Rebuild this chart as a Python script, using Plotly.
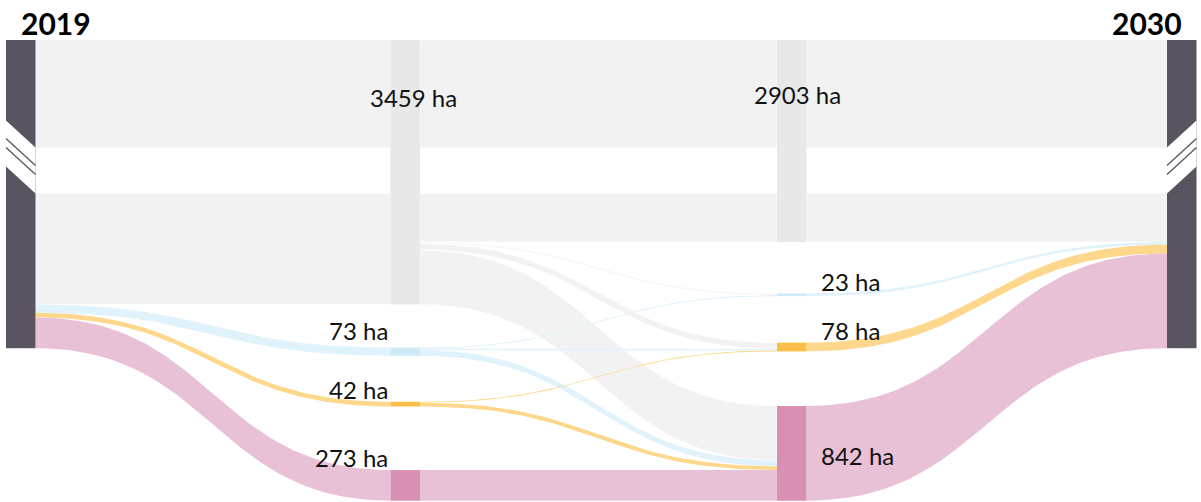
import numpy as np
import plotly.graph_objects as go

# ---------------- data ----------------
year_labels = ["2019", "2030"]
class_names = ["grey", "blue", "orange", "pink"]
stage1_values = [3459, 73, 42, 273]      # ha, first intermediate column
stage2_values = [2903, 23, 78, 842]      # ha, second intermediate column
# transitions between the two intermediate columns
trans_source = [0, 0, 0, 0, 1, 1, 1, 2, 2, 3]
trans_target = [0, 1, 2, 3, 1, 2, 3, 2, 3, 3]
trans_values = [2903, 14, 57, 485, 9, 13, 51, 8, 34, 273]
unit = "ha"

# ---------------- style / layout ----------------
flow_colors = ["#f2f2f2", "#e0f2fc", "#fdd88c", "#e9c1d7"]
node_colors = ["#e8e8e8", "#cee9f8", "#fbbf47", "#d990b5"]
year_color = "#5a5360"
W, H = 1201, 502
col_x = [6, 390.5, 777, 1167]
node_w = 29.5
top_px = 40
k = 0.1125                 # px per ha
brk_u = (147.5 - top_px) / k   # ha from top where the axis break starts
brk_hidden = 1516          # ha hidden by the break
brk_px = 46                # visual height of the break
col_gaps = {1: [43, 46, 63.5], 2: [51.5, 46.5, 54.5]}
label_dy = {1: [57, -17.5, -12.7, -13], 2: [54, -12.5, -11.7, 49.7]}
font_family = "Lato"


def Y(u):
    if u <= brk_u:
        return top_px + k * u
    if u <= brk_u + brk_hidden:
        return top_px + k * brk_u + brk_px * (u - brk_u) / brk_hidden
    return top_px + k * brk_u + brk_px + k * (u - brk_u - brk_hidden)


n = len(class_names)
out1 = [sum(v for s, v in zip(trans_source, trans_values) if s == i) for i in range(n)]
in2 = [sum(v for t, v in zip(trans_target, trans_values) if t == i) for i in range(n)]
col_vals = {
    0: [sum(stage1_values)],
    1: [max(a, b) for a, b in zip(stage1_values, out1)],
    2: [max(a, b) for a, b in zip(in2, stage2_values)],
    3: [sum(stage2_values)],
}

node_top = {}
for c in (1, 2):
    prev_bottom = None
    for i in range(n):
        if i == 0:
            node_top[(c, i)] = Y(0)
            prev_bottom = Y(col_vals[c][0])
        else:
            node_top[(c, i)] = prev_bottom + col_gaps[c][i - 1]
            prev_bottom = node_top[(c, i)] + k * col_vals[c][i]


def node_y(c, i, u):
    if i == 0:
        return Y(u)
    return node_top[(c, i)] + k * u


# links: (src_col, src_i, tgt_col, tgt_i, value, color index)
links = []
for i, v in enumerate(stage1_values):
    links.append((0, 0, 1, i, v, i))
for s, t, v in zip(trans_source, trans_target, trans_values):
    links.append((1, s, 2, t, v, s))
for i, v in enumerate(stage2_values):
    links.append((2, i, 3, 0, v, i))

# stacking offsets
src_off, tgt_off = {}, {}
for li, L in sorted(enumerate(links), key=lambda e: (e[1][0], e[1][1], e[1][3])):
    key = (L[0], L[1])
    a = src_off.get(key, 0)
    src_off[key] = a + L[4]
    links[li] = L + (a,)
for li, L in sorted(enumerate(links), key=lambda e: (e[1][2], e[1][3], e[1][1])):
    key = (L[2], L[3])
    a = tgt_off.get(key, 0)
    tgt_off[key] = a + L[4]
    links[li] = L + (a,)


def band(xa, ya0, ya1, xb, yb0, yb1, m=80):
    t = np.linspace(0, 1, m)
    xm = (xa + xb) / 2
    bx = (1 - t) ** 3 * xa + 3 * (1 - t) ** 2 * t * xm + 3 * (1 - t) * t ** 2 * xm + t ** 3 * xb

    def by(y0, y1):
        return (1 - t) ** 3 * y0 + 3 * (1 - t) ** 2 * t * y0 + 3 * (1 - t) * t ** 2 * y1 + t ** 3 * y1

    tp, bt = by(ya0, yb0), by(ya1, yb1)
    return (np.concatenate([bx, bx[::-1], [bx[0]]]),
            np.concatenate([tp, bt[::-1], [tp[0]]]))


def poly(xs, ys, color, lw=0, lc=None):
    fig.add_trace(go.Scatter(x=list(xs), y=list(ys), mode="lines", fill="toself",
                             fillcolor=color, line=dict(width=lw, color=lc or color),
                             hoverinfo="skip", showlegend=False))


fig = go.Figure()

# links, grey first
for ci in range(n):
    for L in links:
        sc, si, tc, ti, v, col, so, to = L
        if col != ci:
            continue
        xa = col_x[sc] + node_w
        xb = col_x[tc]
        xs, ys = band(xa, node_y(sc, si, so), node_y(sc, si, so + v),
                      xb, node_y(tc, ti, to), node_y(tc, ti, to + v))
        if ci == 0:
            poly(xs, ys, flow_colors[ci], 0.7, "#ffffff")
        else:
            poly(xs, ys, flow_colors[ci])
    if ci == 0:
        # white break band across the grey flows
        gx0, gx1 = col_x[0] + node_w, col_x[3]
        g0, g1 = Y(brk_u), Y(brk_u + brk_hidden)
        poly([gx0, gx1, gx1, gx0, gx0], [g0, g0, g1, g1, g0], "#ffffff")

# middle nodes
for c in (1, 2):
    for i in range(n):
        y0 = node_y(c, i, 0)
        y1 = node_y(c, i, col_vals[c][i])
        x0, x1 = col_x[c], col_x[c] + node_w
        poly([x0, x1, x1, x0, x0], [y0, y0, y1, y1, y0], node_colors[i])

# year bars with break
g0, g1 = Y(brk_u), Y(brk_u + brk_hidden)
d = 27
for c in (0, 3):
    x0, x1 = col_x[c], col_x[c] + node_w
    y0, y1 = Y(0), Y(col_vals[c][0])
    poly([x0, x1, x1, x0, x0], [y0, y0, y1, y1, y0], year_color)
    outer, inner = (x0, x1) if c == 0 else (x1, x0)
    poly([outer, inner, inner, outer, outer], [g0 - d, g0, g1, g1 - d, g0 - d], "#ffffff")
    for off in (-9, 0):
        fig.add_trace(go.Scatter(x=[outer, inner], y=[g0 + off, g0 + off + d], mode="lines",
                                 line=dict(color=year_color, width=1.3),
                                 hoverinfo="skip", showlegend=False))

# labels
ann = []
vals = {1: stage1_values, 2: stage2_values}
for c in (1, 2):
    for i in range(n):
        txt = f"{vals[c][i]} {unit}"
        y = node_top[(c, i)] + label_dy[c][i]
        if i == 0:
            x, xa = col_x[c] + node_w / 2 + (8 if c == 1 else 6), "center"
        elif c == 1:
            x, xa = col_x[c] - 1, "right"
        else:
            x, xa = col_x[c] + node_w + 12, "left"
        ann.append(dict(x=x, y=y, text=txt, xanchor=xa, yanchor="middle", showarrow=False,
                        font=dict(family=font_family, size=24, color="#111111")))
ann.append(dict(x=19, y=22.5, text=f"<b>{year_labels[0]}</b>", xanchor="left", yanchor="middle",
                showarrow=False, font=dict(family=font_family, size=30, color="#000000")))
ann.append(dict(x=1184, y=22.5, text=f"<b>{year_labels[1]}</b>", xanchor="right", yanchor="middle",
                showarrow=False, font=dict(family=font_family, size=30, color="#000000")))

fig.update_layout(
    width=W, height=H, margin=dict(l=0, r=0, t=0, b=0),
    paper_bgcolor="white", plot_bgcolor="white",
    xaxis=dict(range=[0, W], visible=False, fixedrange=True),
    yaxis=dict(range=[H, 0], visible=False, fixedrange=True),
    annotations=ann, showlegend=False,
)
fig.write_html("out.html", config={"displayModeBar": False},
               post_script="document.body.style.margin='0px';document.body.style.overflow='hidden';")
